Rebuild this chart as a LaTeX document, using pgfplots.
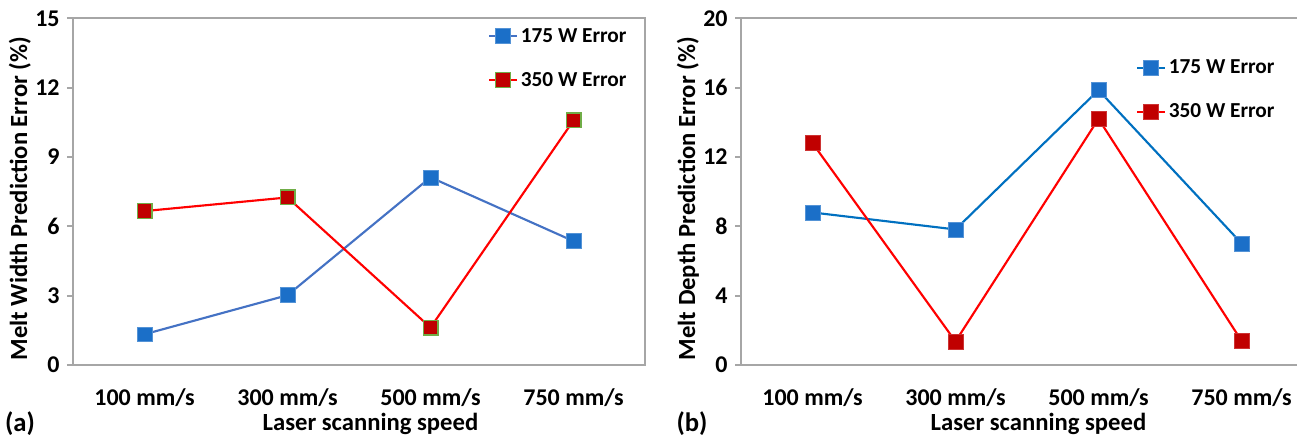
\documentclass[border=0pt]{standalone}
\usepackage{pgfplots}
\pgfplotsset{compat=1.18}
\usepackage{fontspec}
\setmainfont{Carlito}

\definecolor{axgray}{HTML}{A6A6A6}
\definecolor{blueL}{HTML}{4472C4}
\definecolor{blueM}{HTML}{1B6FC8}
\definecolor{blueR}{HTML}{0070C0}
\definecolor{redL}{HTML}{FF0000}
\definecolor{redM}{HTML}{C00000}
\definecolor{greenE}{HTML}{70AD47}

\pgfplotsset{
  panel/.style={
    scale only axis,
    width=429pt, height=260pt,
    xmin=-0.5, xmax=3.5, ymin=0,
    axis line style={axgray, line width=1.4pt},
    tick align=outside, tick pos=left,
    xtick={0,1,2,3},
    xticklabels={100 mm/s, 300 mm/s, 500 mm/s, 750 mm/s},
    x tick style={draw=none},
    extra x ticks={-0.5,0.5,1.5,2.5,3.5},
    extra x tick labels={},
    extra x tick style={major tick length=5pt, tick style={draw=axgray, line width=2.2pt}},
    y tick style={draw=axgray, line width=1.6pt},
    major tick length=4.5pt,
    /pgf/number format/assume math mode=true,
    tick label style={font=\fontsize{18}{21}\selectfont\bfseries, black},
    xticklabel style={anchor=center, yshift=-20pt},
    yticklabel style={xshift=-2pt},
    label style={font=\fontsize{18.5}{22}\selectfont\bfseries, black},
    xlabel={Laser scanning speed},
    xlabel style={at={(rel axis cs:0.52,0)}, anchor=center, yshift=-44.5pt},
    ylabel style={at={(rel axis cs:-0.093,0.48)}, anchor=center},
    legend style={draw=none, fill=none, font=\fontsize{16}{19}\selectfont\bfseries,
      row sep=17pt, anchor=north west, inner sep=0pt},
    legend cell align=left,
    legend image code/.code={\draw[mark repeat=2, mark phase=2, #1]
      plot coordinates {(0pt,0pt) (10.5pt,0pt) (21pt,0pt)};},
  },
  ser/.style={line width=1.6pt, mark=square*, mark size=5.6pt},
}

\begin{document}
\begin{tikzpicture}
\useasboundingbox (0,0) rectangle (972.75pt,327.75pt);

% (a) melt width
\begin{axis}[panel, at={(54.75pt,54pt)},
    ymax=15, ytick={0,3,...,15},
    ylabel={Melt Width Prediction Error (\%)},
    legend style={at={(rel axis cs:0.725,0.98)}}]
  \addplot[ser, blueL, mark options={fill=blueM, draw=blueM!75!white, line width=0.4pt}]
    coordinates {(0,1.33) (1,3.02) (2,8.12) (3,5.36)};
  \addlegendentry{175 W Error}
  \addplot[ser, redL, mark options={fill=redM, draw=greenE, line width=0.8pt}]
    coordinates {(0,6.66) (1,7.25) (2,1.62) (3,10.58)};
  \addlegendentry{350 W Error}
  \draw[axgray, line width=2.2pt] (rel axis cs:0,1) |- (rel axis cs:1,0);
\end{axis}

% (b) melt depth
\begin{axis}[panel, at={(555.75pt,54pt)},
    ymax=20, ytick={0,4,...,20},
    ylabel={Melt Depth Prediction Error (\%)},
    legend style={at={(rel axis cs:0.69,0.888)}}]
  \addplot[ser, blueR, mark options={fill=blueM, draw=blueM!75!white, line width=0.4pt}]
    coordinates {(0,8.8) (1,7.82) (2,15.86) (3,7.02)};
  \addlegendentry{175 W Error}
  \addplot[ser, redL, mark options={fill=redM, draw=redM!80!white, line width=0.4pt}]
    coordinates {(0,12.8) (1,1.36) (2,14.2) (3,1.4)};
  \addlegendentry{350 W Error}
  \draw[axgray, line width=2.2pt] (rel axis cs:0,1) |- (rel axis cs:1,0);
\end{axis}

\node[font=\fontsize{20}{23}\selectfont\bfseries] at (15pt,10pt) {(a)};
\node[font=\fontsize{20}{23}\selectfont\bfseries] at (519pt,10pt) {(b)};
\end{tikzpicture}
\end{document}
